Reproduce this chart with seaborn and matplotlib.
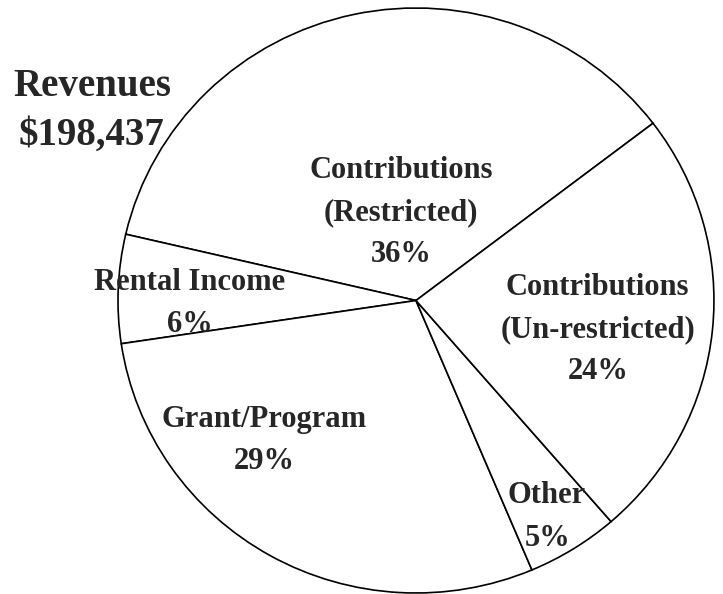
import matplotlib.pyplot as plt
import seaborn as sns

sns.set_style("white")
plt.rcParams["font.family"] = ["Liberation Serif", "DejaVu Serif"]

# =====================================
# Data
# =====================================

categories = [
    "Contributions\n(Restricted)",
    "Rental Income",
    "Grant/Program",
    "Other",
    "Contributions\n(Un-restricted)",
]
shares = [36, 6, 29, 5, 24]
total_label = "$198,437"

# label centres inside the pie (pie radius = 1)
label_xy = [
    (-0.05, 0.30),
    (-0.76, -0.01),
    (-0.51, -0.48),
    (0.44, -0.74),
    (0.61, -0.10),
]

# =====================================
# Chart
# =====================================

fig = plt.figure(figsize=(7.23, 5.94), dpi=100)
ax = fig.add_axes([0.1632, 0.0017, 0.8243, 0.9848])

ax.pie(
    shares,
    startangle=37.3,
    counterclock=True,
    colors=["white"] * len(shares),
    wedgeprops=dict(edgecolor="black", linewidth=1.2),
)

for name, pct, (x, y) in zip(categories, shares, label_xy):
    ax.text(
        x, y, f"{name}\n{pct}%",
        ha="center", va="center",
        fontsize=22, fontweight="bold",
        linespacing=1.6,
    )

ax.set_aspect("auto")
ax.set_xlim(-1, 1)
ax.set_ylim(-1, 1)
ax.axis("off")

fig.text(
    92 / 723, 1 - 111 / 594,
    f"Revenues\n{total_label}",
    ha="center", va="center",
    fontsize=28, fontweight="bold",
    linespacing=1.4,
)

plt.savefig("out.png", dpi=100)
plt.close()
